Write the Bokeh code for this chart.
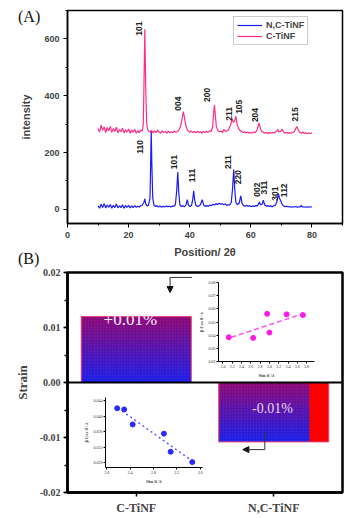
import numpy as np
from bokeh.plotting import figure
from bokeh.models import (Range1d, SingleIntervalTicker, FixedTicker, NumeralTickFormatter,
                          Span, Arrow, NormalHead, GridBox, Legend, LegendItem, Div)
from bokeh.core.properties import value
from bokeh.embed import file_html
from bokeh.resources import INLINE

# ---------------- (A) XRD data ----------------
ctinf_x = [10.0, 10.5, 11.0, 11.5, 12.0, 12.5, 13.0, 13.5, 14.0, 14.5, 15.0, 15.5, 16.0, 16.5, 17.0,
           17.5, 18.0, 18.5, 19.0, 19.5, 20.0, 20.5, 21.0, 21.5, 22.0, 22.5, 23.0, 23.5, 24.0, 24.5,
           24.8, 25.0, 25.3, 25.6, 25.9, 26.2, 26.5,
           27.0, 27.5, 28.0, 28.5, 29.0, 29.5, 30.0, 30.5, 31.0, 31.5, 32.0, 32.5, 33.0, 33.5, 34.0,
           34.5, 35.0, 35.5, 36.0, 36.5, 37.0,
           37.5, 37.9, 38.3, 38.7, 39.2, 39.6,
           40.0, 40.5, 41.0, 41.5, 42.0, 42.5, 43.0, 43.5, 44.0, 44.5, 45.0, 45.5, 46.0, 46.5, 47.0, 47.5,
           47.8, 48.1, 48.4, 48.7, 49.2, 49.7, 50.2, 50.7, 51.2, 51.7, 52.2, 52.7, 53.3, 53.9, 54.3,
           54.7, 55.1, 55.5,
           56.0, 56.5, 57.0, 57.5, 58.0, 58.5, 59.0, 59.5, 60.0, 60.5, 61.0, 61.5, 62.0,
           62.4, 62.7, 63.0, 63.4,
           64.0, 64.5, 65.0, 65.5, 66.0, 66.5, 67.0, 67.5, 68.0, 68.5,
           68.8, 69.2, 69.7, 70.3, 70.7, 71.2, 71.7, 72.2, 72.7, 73.2, 73.7, 74.2, 74.7, 75.1, 75.5,
           76.0, 76.5, 77.0, 77.5, 78.0, 78.5, 79.0, 79.5, 80.0]
ctinf_y = [285, 272, 296, 278, 290, 270, 288, 276, 292, 271, 284, 274, 289, 270, 281,
           273, 286, 269, 280, 272, 283, 268, 279, 271, 282, 268, 277, 270, 279, 276,
           300, 420, 634, 430, 305, 282, 277,
           271, 278, 269, 276, 270, 279, 272, 268, 276, 270, 274, 268, 275, 269, 273,
           270, 276, 271, 274, 280, 292,
           318, 344, 322, 296, 280, 275,
           271, 276, 270, 274, 269, 275, 270, 273, 268, 274, 270, 275, 271, 276, 274, 290,
           335, 367, 330, 292, 278, 273, 276, 270, 282, 274, 276, 280, 295, 318, 306,
           312, 327, 300,
           284, 277, 274, 270, 273, 269, 272, 268, 271, 268, 272, 270, 278,
           292, 303, 290, 276,
           272, 268, 271, 267, 270, 268, 271, 269, 272, 276,
           281, 272, 274, 282, 271, 268, 271, 267, 270, 268, 271, 273, 284, 291, 280,
           271, 268, 272, 267, 270, 266, 269, 267, 269]

nctinf_x = [10.0, 10.5, 11.0, 11.5, 12.0, 12.5, 13.0, 13.5, 14.0, 14.5, 15.0, 15.5, 16.0, 16.5, 17.0,
            17.5, 18.0, 18.5, 19.0, 19.5, 20.0, 20.5, 21.0, 21.5, 22.0, 22.5, 23.0, 23.5, 24.0, 24.5,
            25.0, 25.3, 25.6, 26.0, 26.5, 27.0, 27.2, 27.4, 27.6, 27.9, 28.3,
            28.8, 29.3, 29.8, 30.3, 30.8, 31.3, 31.8, 32.3, 32.8, 33.3, 33.8, 34.3, 34.8, 35.3,
            35.7, 36.1, 36.4, 36.8, 37.3, 37.8, 38.3, 38.8, 39.2, 39.6, 40.1, 40.6, 41.0, 41.3, 41.6,
            42.0, 42.5, 43.0, 43.5, 44.1, 44.6,
            45.1, 45.6, 46.1, 46.6, 47.1, 47.6, 48.1, 48.6, 49.1, 49.6, 50.1, 50.6, 51.1, 51.6, 52.1,
            52.6, 53.1, 53.6, 54.0, 54.4, 54.7, 55.1, 55.6, 56.2, 56.7, 57.1, 57.6,
            58.1, 58.6, 59.1, 59.6, 60.1, 60.6, 61.1, 61.6, 62.1, 62.5, 62.8, 63.2, 63.7, 64.1, 64.5,
            65.0, 65.5, 66.0, 66.5, 67.0, 67.5, 68.0, 68.5, 69.0, 69.4, 69.8, 70.2, 70.7,
            71.2, 71.7, 72.2, 72.7, 73.2, 73.7, 74.2, 74.7, 75.2, 75.7, 76.2, 76.5, 76.9, 77.4, 77.9,
            78.4, 78.9, 79.4, 80.0]
nctinf_y = [12, 4, 18, 6, 20, 5, 15, 7, 17, 4, 14, 6, 19, 5, 12,
            6, 16, 4, 13, 7, 14, 5, 12, 6, 13, 7, 11, 8, 13, 15,
            24, 37, 20, 12, 14, 40, 150, 278, 160, 40, 14,
            10, 13, 8, 12, 7, 11, 8, 12, 9, 11, 8, 12, 10, 16,
            60, 131, 60, 15, 10, 12, 9, 16, 34, 14, 10, 14, 35, 65, 35,
            14, 10, 12, 16, 34, 14,
            10, 13, 11, 15, 13, 18, 15, 20, 17, 21, 18, 20, 16, 19, 14,
            16, 15, 25, 70, 140, 75, 25, 16, 22, 47, 22, 13,
            11, 14, 10, 13, 9, 12, 10, 13, 12, 18, 26, 16, 18, 32, 16,
            11, 13, 10, 12, 9, 13, 14, 25, 55, 38, 30, 18, 12,
            9, 11, 8, 10, 7, 9, 8, 10, 7, 9, 8, 14, 8, 9, 7,
            9, 7, 9, 8]

c_peak_labels = ["101", "004", "200", "211", "105", "204", "215"]
c_peak_x = [23.5, 36.3, 45.7, 52.9, 56.0, 61.3, 74.6]
c_peak_y = [636, 372, 403, 336, 361, 332, 334]
n_peak_labels = ["110", "101", "111", "211", "220", "002", "311", "301", "112"]
n_peak_x = [23.8, 34.9, 40.8, 52.6, 55.8, 62.0, 64.3, 68.0, 70.7]
n_peak_y = [220, 166, 119, 166, 113, 69, 76, 55, 67]

# ---------------- (B) strain data ----------------
categories = ["C-TiNF", "N,C-TiNF"]
strain = [0.012, -0.0108]
strain_text = ["+0.01%", "-0.01%"]

c_sin = [2.126, 2.65, 2.95, 3.0, 3.37, 3.72]
c_bcos = [0.0384, 0.0379, 0.0562, 0.0420, 0.0558, 0.0553]
c_fit_x = [2.18, 3.72]
c_fit_y = [0.0384, 0.0562]

n_sin = [2.18, 2.30, 2.445, 2.98, 3.095, 3.465]
n_bcos = [0.0421, 0.0418, 0.0379, 0.0355, 0.0308, 0.0281]
n_fit_x = [2.265, 3.49]
n_fit_y = [0.0414, 0.0281]

inset1_xticks = [2.0, 2.2, 2.4, 2.6, 2.8, 3.0, 3.2, 3.4, 3.6, 3.8]
inset1_yticks = [0.02, 0.03, 0.04, 0.05, 0.06, 0.07, 0.08]
inset2_xticks = [2.0, 2.4, 2.8, 3.2, 3.6]
inset2_yticks = [0.028, 0.032, 0.036, 0.040, 0.044]

BLUE = "#1a1aff"
PINK = "#ff2d87"
SANS = "Liberation Sans"
SERIF = "Liberation Serif"

# ================= Panel A =================
pA = figure(width=357, height=268, x_range=Range1d(0, 90), y_range=Range1d(-50, 700),
            output_backend="svg", toolbar_location=None,
            min_border_left=64, min_border_right=15, min_border_top=10, min_border_bottom=45)
pA.grid.visible = False
pA.outline_line_color = "black"
pA.outline_line_width = 1.5
pA.xaxis.ticker = SingleIntervalTicker(interval=20, num_minor_ticks=2)
pA.yaxis.ticker = SingleIntervalTicker(interval=200, num_minor_ticks=2)
pA.xaxis.axis_label = "Position/ 2θ"
pA.yaxis.axis_label = "intensity"
for ax in [pA.xaxis[0], pA.yaxis[0]]:
    ax.axis_line_width = 1.5
    ax.major_tick_in = 0
    ax.major_tick_out = 4
    ax.minor_tick_in = 0
    ax.minor_tick_out = 2
    ax.major_label_text_font = SANS
    ax.major_label_text_font_style = "bold"
    ax.major_label_text_font_size = "9px"
    ax.major_label_standoff = 4
    ax.axis_label_text_font = SANS
    ax.axis_label_text_font_style = "bold"
    ax.axis_label_text_font_size = "11px"
pA.xaxis.axis_label_standoff = 5
pA.yaxis.axis_label_standoff = 9

rb = pA.line(nctinf_x, nctinf_y, color=BLUE, line_width=1.2)
rp = pA.line(ctinf_x, ctinf_y, color=PINK, line_width=1.2)

pA.text(x=c_peak_x, y=c_peak_y, text=c_peak_labels, angle=np.pi / 2,
        text_font=value(SANS), text_font_style="bold", text_font_size="8.5px",
        text_color="#222222", text_align="center", text_baseline="middle")
pA.text(x=n_peak_x, y=n_peak_y, text=n_peak_labels, angle=np.pi / 2,
        text_font=value(SANS), text_font_style="bold", text_font_size="8.5px",
        text_color="#222222", text_align="center", text_baseline="middle")

legend = Legend(items=[LegendItem(label="N,C-TiNF", renderers=[rb]),
                       LegendItem(label="C-TiNF", renderers=[rp])],
                location=(166, 178), glyph_width=25, glyph_height=10, label_height=10,
                spacing=1, padding=3, margin=0, label_standoff=4,
                label_text_font=SANS, label_text_font_style="bold", label_text_font_size="9px",
                border_line_color="#999999", border_line_width=1)
pA.add_layout(legend)

# ================= Panel B =================
pB = figure(width=357, height=250, x_range=Range1d(0.5, 2.5), y_range=Range1d(-0.02, 0.02),
            output_backend="svg", toolbar_location=None,
            min_border_left=67, min_border_right=14, min_border_top=4, min_border_bottom=26)
pB.grid.visible = False
pB.outline_line_color = "black"
pB.outline_line_width = 2.5
positions = [i + 1 for i in range(len(categories))]
pB.xaxis.ticker = FixedTicker(ticks=positions, minor_ticks=[])
pB.xaxis.major_label_overrides = {pos: cat for pos, cat in zip(positions, categories)}
pB.yaxis.ticker = SingleIntervalTicker(interval=0.01, num_minor_ticks=2)
pB.yaxis.formatter = NumeralTickFormatter(format="0.00")
pB.yaxis.axis_label = "Strain"
for ax in [pB.xaxis[0], pB.yaxis[0]]:
    ax.axis_line_width = 2.5
    ax.major_tick_in = 0
    ax.major_tick_out = 4
    ax.major_tick_line_width = 1.5
    ax.minor_tick_in = 0
    ax.minor_tick_out = 3
    ax.minor_tick_line_width = 1.5
    ax.major_label_text_font = SERIF
    ax.major_label_text_font_style = "bold"
    ax.axis_label_text_font = SERIF
    ax.axis_label_text_font_style = "bold"
    ax.axis_label_text_font_size = "13px"
pB.yaxis.major_label_text_font_size = "10px"
pB.xaxis.major_label_text_font_size = "12px"
pB.yaxis.major_label_standoff = 3
pB.xaxis.major_label_standoff = 4
pB.yaxis.axis_label_standoff = 7


def gradient_rgba(w, h):
    t = np.linspace(0.0, 1.0, h)[:, None] * np.ones((1, w))
    r = 28 + (140 - 28) * t
    g = 32 + (10 - 32) * t
    b = 232 + (118 - 232) * t
    yy, xx = np.mgrid[0:h, 0:w]
    dots = ((yy % 3) == 1) & ((xx % 3) == 1)
    r = np.where(dots, r + 30, r)
    g = np.where(dots, g + 25, g)
    b = np.where(dots, b + 20, b)
    img = np.empty((h, w), dtype=np.uint32)
    view = img.view(dtype=np.uint8).reshape((h, w, 4))
    view[..., 0] = np.clip(r, 0, 255)
    view[..., 1] = np.clip(g, 0, 255)
    view[..., 2] = np.clip(b, 0, 255)
    view[..., 3] = 255
    return img


bar_w = 0.8
pB.vbar(x=positions, top=strain, width=bar_w, fill_color="#ff0000", line_color=None)
cover = [1.0, 0.825]
for pos, s, c in zip(positions, strain, cover):
    pB.image_rgba(image=[gradient_rgba(int(110 * c), int(abs(s) * 5500))],
                  x=pos - bar_w / 2, y=min(0, s), dw=bar_w * c, dh=abs(s))
pB.vbar(x=positions, top=strain, width=bar_w, fill_alpha=0, line_color="#e8467a", line_width=1)

pB.add_layout(Span(location=0, dimension="width", line_color="black", line_width=2))

pB.text(x=[0.957], y=[0.0114], text=[strain_text[0]], text_font=value(SERIF),
        text_font_size="17px", text_color="#fbeefb", text_align="center", text_baseline="middle")
pB.text(x=[1.99], y=[-0.0047], text=[strain_text[1]], text_font=value(SERIF),
        text_font_size="14px", text_color="#e6d6f0", text_align="center", text_baseline="middle")

# arrows
pB.line(x=[1.406, 1.246], y=[0.0191, 0.0191], color="#333333", line_width=1)
pB.add_layout(Arrow(end=NormalHead(size=6, fill_color="#111111", line_color="#111111"),
                    x_start=1.246, y_start=0.0191, x_end=1.246, y_end=0.01636,
                    line_color="#333333", line_width=1))
pB.line(x=[1.935, 1.935], y=[-0.0089, -0.0122], color="#333333", line_width=1)
pB.add_layout(Arrow(end=NormalHead(size=6, fill_color="#111111", line_color="#111111"),
                    x_start=1.935, y_start=-0.0122, x_end=1.775, y_end=-0.0122,
                    line_color="#333333", line_width=1))


# ================= Insets =================
def style_inset(p, xticks, yticks, xfmt, yfmt):
    p.grid.visible = False
    p.xaxis.ticker = FixedTicker(ticks=xticks, minor_ticks=[])
    p.yaxis.ticker = FixedTicker(ticks=yticks, minor_ticks=[])
    p.xaxis.formatter = NumeralTickFormatter(format=xfmt)
    p.yaxis.formatter = NumeralTickFormatter(format=yfmt)
    p.xaxis.axis_label = "Sin θ /λ"
    p.yaxis.axis_label = "β Cos θ / λ"
    for ax in [p.xaxis[0], p.yaxis[0]]:
        ax.axis_line_width = 1
        ax.major_tick_in = 0
        ax.major_tick_out = 2
        ax.major_label_standoff = 1
        ax.major_label_text_font = SERIF
        ax.major_label_text_font_size = "4px"
        ax.major_label_text_color = "#333333"
        ax.axis_label_standoff = 2
        ax.axis_label_text_font = SERIF
        ax.axis_label_text_font_style = "bold"
    p.xaxis.axis_label_text_font_size = "5px"
    p.yaxis.axis_label_text_font_size = "4.5px"


pI1 = figure(width=134, height=104, x_range=Range1d(1.905, 3.97), y_range=Range1d(0.02, 0.08),
             output_backend="svg", toolbar_location=None,
             min_border_left=19, min_border_right=6, min_border_top=6, min_border_bottom=17,
             background_fill_alpha=0, border_fill_alpha=0, outline_line_color=None)
style_inset(pI1, inset1_xticks, inset1_yticks, "0.0", "0.00")
pI1.line(c_fit_x, c_fit_y, color="#ff55ee", line_width=1.5, line_dash="5 3")
pI1.scatter(c_sin, c_bcos, size=5, color="#ff1ae8")

pI2 = figure(width=137, height=101, x_range=Range1d(1.98, 3.64), y_range=Range1d(0.0267, 0.0449),
             output_backend="svg", toolbar_location=None,
             min_border_left=21, min_border_right=5, min_border_top=5, min_border_bottom=18,
             background_fill_alpha=0, border_fill_alpha=0, outline_line_color=None)
style_inset(pI2, inset2_xticks, inset2_yticks, "0.0", "0.000")
pI2.line(n_fit_x, n_fit_y, color="#5a5aff", line_width=1.5, line_dash="2 3")
pI2.scatter(n_sin, n_bcos, size=5, color="#2a2aff")

# panel letters
panel_style = {"font-family": SERIF, "font-size": "16px", "line-height": "16px", "color": "#111111"}
divA = Div(text="(A)", width=30, height=18, margin=(9, 0, 0, 18), styles=panel_style)
divB = Div(text="(B)", width=30, height=18, margin=(251, 0, 0, 18), styles=panel_style)

grid = GridBox(children=[(pA, 0, 0, 1, 3), (pB, 1, 0, 3, 3), (pI1, 2, 2, 1, 1), (pI2, 3, 1, 1, 2),
                         (divA, 0, 0, 1, 1), (divB, 0, 0, 1, 1)],
               rows=["268px", "8px", "116px", "126px"], cols=["80px", "115px", "162px"], spacing=0)

open("out.html", "w").write(file_html(grid, INLINE))
